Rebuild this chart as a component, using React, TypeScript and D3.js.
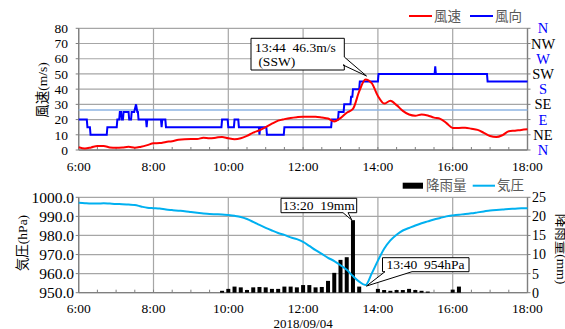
import React from 'react';
import * as d3 from 'd3';

// 2018/09/04 6:00-18:00 の10分毎データ
const windSpeed = [
  1.8, 1.0, 1.7, 2.6, 2.6, 1.7, 1.4, 1.6, 2.1, 1.5,
  2.2, 3.2, 4.4, 4.6, 5.3, 5.8, 6.7, 7.1, 7.2, 7.2,
  8.1, 7.7, 8.1, 8.6, 7.7, 7.1, 7.7, 9.3, 11.4, 13.0,
  15.0, 17.3, 19.3, 20.3, 21.1, 21.6, 21.9, 21.9, 21.9, 21.4,
  20.7, 18.8, 21.0, 24.5, 27.0, 38.5, 46.3, 44.0, 35.5, 30.5,
  32.3, 29.5, 25.7, 23.3, 22.5, 23.4, 22.7, 21.3, 20.5, 17.7,
  14.5, 14.5, 14.6, 14.0, 13.2, 11.3, 9.2, 8.5, 9.8, 12.3,
  12.7, 13.2, 13.6,
];

const pressure = [
  997.2, 996.9, 996.7, 996.7, 996.9, 996.7, 996.5, 996.4, 996.2, 996.0,
  995.2, 994.5, 994.3, 994.1, 993.6, 993.3, 993.0, 992.7, 992.3, 991.9,
  991.5, 991.2, 991.1, 991.0, 990.7, 990.3, 989.7, 988.6, 987.1, 985.5,
  984.0, 982.6, 981.3, 980.3, 979.0, 978.1, 976.6, 974.5, 972.3, 970.3,
  968.3, 966.6, 964.4, 962.0, 958.7, 955.8, 954.0, 960.0, 966.8, 973.0,
  977.4, 980.4, 982.6, 983.9, 985.2, 986.4, 987.4, 988.4, 989.2, 990.0,
  990.5, 990.9, 991.2, 991.6, 992.1, 992.6, 993.1, 993.4, 993.6, 993.9,
  994.0, 994.2, 994.2,
];

const rain = [
  0, 0, 0, 0, 0, 0, 0, 0, 0, 0,
  0, 0, 0, 0, 0, 0, 0, 0, 0, 0,
  0, 0, 0, 0.5, 1.0, 1.6, 1.4, 0.7, 1.4, 1.5,
  1.4, 1.0, 1.0, 1.6, 1.6, 1.4, 2.0, 2.0, 1.4, 1.5,
  3.1, 5.2, 8.6, 9.3, 19.0, 1.6, 0, 0, 1.0, 0.7,
  0.5, 0.7, 0.7, 1.0, 0.7, 0.5, 0.3, 0, 0, 0,
  0.8, 1.6, 0, 0, 0, 0, 0, 0, 0, 0,
  0, 0, 0,
];

// 風向 (N=0, NE=10, E=20 ... N=80) 変化点
const dirTimes = [
  '6:00', '6:13', '6:14', '6:18', '6:19', '6:45', '6:46', '7:01', '7:02', '7:05',
  '7:06', '7:08', '7:09', '7:11', '7:12', '7:20', '7:21', '7:24', '7:25', '7:29',
  '7:32', '7:34', '7:35', '7:36', '7:48', '7:49', '7:50', '8:12', '8:13', '8:14',
  '8:19', '8:20', '9:49', '9:50', '9:59', '10:00', '10:09', '10:10', '10:16', '10:17',
  '10:49', '10:50', '10:51', '11:01', '11:02', '11:29', '11:30', '12:45', '12:46', '12:56',
  '12:57', '13:05', '13:06', '13:16', '13:17', '13:19', '13:20', '13:30', '13:31', '14:00',
  '14:01', '15:31', '15:32', '15:33', '16:55', '16:56', '18:00',
];
const dirValues = [
  20, 20, 15, 15, 10, 10, 15, 15, 20, 20,
  25, 25, 20, 20, 25, 25, 20, 20, 25, 25,
  30, 25, 25, 20, 20, 15, 20, 20, 15, 20,
  20, 15, 15, 20, 20, 15, 15, 20, 20, 15,
  15, 10, 15, 15, 10, 10, 15, 15, 20, 20,
  25, 25, 30, 30, 35, 35, 40, 40, 45, 45,
  50, 50, 55, 50, 50, 45, 45,
];

const timeTicks = ['6:00', '8:00', '10:00', '12:00', '14:00', '16:00', '18:00'];
const speedTicks = [0, 10, 20, 30, 40, 50, 60, 70, 80];
const dirLabels = ['N', 'NE', 'E', 'SE', 'S', 'SW', 'W', 'NW', 'N'];
const pressTicks = [950, 960, 970, 980, 990, 1000];
const rainTicks = [0, 5, 10, 15, 20, 25];
const cautionLevel = 26.3;

function toMin(s: string) {
  const parts = s.split(':').map(Number);
  return parts[0] * 60 + parts[1];
}
function stepMin(i: number) {
  return 360 + i * 10;
}

const serif = "'Liberation Serif', 'Noto Sans CJK JP', serif";
const gridColor = '#a6a6a6';
const axisColor = '#7f7f7f';

const x = d3.scaleLinear().domain([360, 1080]).range([78.7, 527.5]);
const ySpeed = d3.scaleLinear().domain([0, 80]).range([150, 28.3]);
const yPress = d3.scaleLinear().domain([950, 1000]).range([292.7, 197.3]);
const yRain = d3.scaleLinear().domain([0, 25]).range([292.7, 197.3]);
const xLeft = 78.7;
const xRight = 527.5;
const minorTicks = d3.range(390, 1080, 30);

function Frame(props: { y: any; ticks: number[]; labelDy: number }) {
  const y = props.y;
  const ticks = props.ticks;
  const bottom = y.range()[0];
  const top = y.range()[1];
  return (
    <g>
      {ticks.map(t => (
        <line key={'h' + t} x1={xLeft} x2={xRight} y1={y(t)} y2={y(t)} stroke={gridColor} strokeWidth={1.2} />
      ))}
      {timeTicks.map(t => (
        <line key={'v' + t} x1={x(toMin(t))} x2={x(toMin(t))} y1={bottom} y2={top} stroke={gridColor} strokeWidth={1.2} />
      ))}
      {minorTicks.map(m => (
        <line key={'m' + m} x1={x(m)} x2={x(m)} y1={bottom} y2={bottom - 3} stroke={axisColor} />
      ))}
      {ticks.map(t => (
        <g key={'t' + t}>
          <line x1={xLeft - 3} x2={xLeft} y1={y(t)} y2={y(t)} stroke={axisColor} />
          <line x1={xRight} x2={xRight + 3} y1={y(t)} y2={y(t)} stroke={axisColor} />
        </g>
      ))}
      <line x1={xLeft} x2={xLeft} y1={bottom} y2={top} stroke={axisColor} strokeWidth={1.3} />
      <line x1={xRight} x2={xRight} y1={bottom} y2={top} stroke={axisColor} strokeWidth={1.3} />
      <line x1={xLeft} x2={xRight} y1={bottom} y2={bottom} stroke={axisColor} strokeWidth={1.3} />
      {timeTicks.map(t => (
        <text key={'x' + t} x={x(toMin(t))} y={bottom + props.labelDy} textAnchor="middle" fontSize={13.5}>{t}</text>
      ))}
    </g>
  );
}

export default function App() {
  const speedLine = d3.line()
    .x((d: any, i: number) => x(stepMin(i)))
    .y((d: any) => ySpeed(d))
    .curve(d3.curveMonotoneX);
  const dirLine = d3.line()
    .x((d: any, i: number) => x(toMin(dirTimes[i])))
    .y((d: any) => ySpeed(d));
  const pressLine = d3.line()
    .x((d: any, i: number) => x(stepMin(i)))
    .y((d: any) => yPress(d))
    .curve(d3.curveMonotoneX);

  const rainPeak = 44;
  const pressMin = 46;
  const rainTipX = x(stepMin(rainPeak)) - 1;
  const rainTipY = yRain(rain[rainPeak]);
  const pressTipX = x(stepMin(pressMin)) + 1;
  const pressTipY = yPress(pressure[pressMin]) + 1;
  const pre = { whiteSpace: 'pre' as const };

  return (
    <svg width={565} height={329} style={{ position: 'absolute', left: 0, top: 0, background: '#fff', fontFamily: serif }}>
      {/* 上段: 風速・風向 */}
      <Frame y={ySpeed} ticks={speedTicks} labelDy={21} />
      {speedTicks.map(t => (
        <text key={'ys' + t} x={68} y={ySpeed(t)} dy="0.35em" textAnchor="end" fontSize={13.5}>{t}</text>
      ))}
      {dirLabels.map((d, i) => (
        <text key={'d' + i} x={543} y={ySpeed(speedTicks[i])} dy="0.35em" textAnchor="middle" fontSize={14.5}
          fill={d.length === 1 ? '#0000ff' : '#000'}>{d}</text>
      ))}
      <text transform="translate(47,90) rotate(-90)" textAnchor="middle" fontSize={13.5}>風速(m/s)</text>
      <line x1={xLeft} x2={xRight} y1={ySpeed(cautionLevel)} y2={ySpeed(cautionLevel)} stroke="#8eb4e3" strokeWidth={1.5} />
      <path d={dirLine(dirValues as any) || ''} fill="none" stroke="#0000ff" strokeWidth={2} />
      <path d={speedLine(windSpeed as any) || ''} fill="none" stroke="#ff0000" strokeWidth={2} />

      <path d="M251,38.3 H344.3 V57 L366.5,76 L343,65 L344.3,65 V70 H251 Z" fill="#fff" stroke="#000" strokeWidth={1} />
      <text x={255} y={51.5} fontSize={13.5} style={pre}>13:44  46.3m/s</text>
      <text x={255} y={66} fontSize={13.5} style={pre}> (SSW)</text>

      <line x1={409} x2={432} y1={16} y2={16} stroke="#ff0000" strokeWidth={2} />
      <text x={434} y={16} dy="0.35em" fontSize={13.5} fill="#595959">風速</text>
      <line x1={470} x2={493} y1={16} y2={16} stroke="#0000ff" strokeWidth={2} />
      <text x={495} y={16} dy="0.35em" fontSize={13.5} fill="#595959">風向</text>

      {/* 下段: 降雨量・気圧 */}
      <Frame y={yPress} ticks={pressTicks} labelDy={20.5} />
      {pressTicks.map(t => (
        <text key={'yp' + t} x={74} y={yPress(t)} dy="0.35em" textAnchor="end" fontSize={15.5}>{t.toFixed(1)}</text>
      ))}
      {rainTicks.map(t => (
        <text key={'yr' + t} x={532} y={yRain(t)} dy="0.35em" fontSize={14}>{t}</text>
      ))}
      <text transform="translate(27,243) rotate(-90)" textAnchor="middle" fontSize={13.5}>気圧(hPa)</text>
      <text transform="translate(557,249) rotate(90)" textAnchor="middle" fontSize={13.5}>降雨量(mm)</text>
      {rain.map((r, i) => r > 0 ? (
        <rect key={'r' + i} x={x(stepMin(i)) - 2} width={4} y={yRain(r)} height={yRain(0) - yRain(r)} fill="#000" />
      ) : null)}
      <path d={pressLine(pressure as any) || ''} fill="none" stroke="#00b0f0" strokeWidth={2} />

      <path d={'M281,198.3 H356.7 V212.7 H348 L' + rainTipX + ',' + rainTipY + ' L343,212.7 H281 Z'}
        fill="#fff" stroke="#000" strokeWidth={1} />
      <text x={318.8} y={210} textAnchor="middle" fontSize={13.5} style={pre}>13:20  19mm</text>
      <path d={'M382.5,257.7 H469 V271.7 H412 L' + pressTipX + ',' + pressTipY + ' L385,271.7 H382.5 Z'}
        fill="#fff" stroke="#000" strokeWidth={1} />
      <text x={386.5} y={269} fontSize={13.5} style={pre}>13:40  954hPa</text>

      <rect x={402.7} y={182.7} width={20.3} height={6} fill="#000" />
      <text x={426} y={185.7} dy="0.35em" fontSize={13.5} fill="#595959">降雨量</text>
      <line x1={472.7} x2={495} y1={185.7} y2={185.7} stroke="#00b0f0" strokeWidth={2} />
      <text x={497} y={185.7} dy="0.35em" fontSize={13.5} fill="#595959">気圧</text>

      <text x={x(toMin('12:00'))} y={327.5} textAnchor="middle" fontSize={13}>2018/09/04</text>
    </svg>
  );
}
